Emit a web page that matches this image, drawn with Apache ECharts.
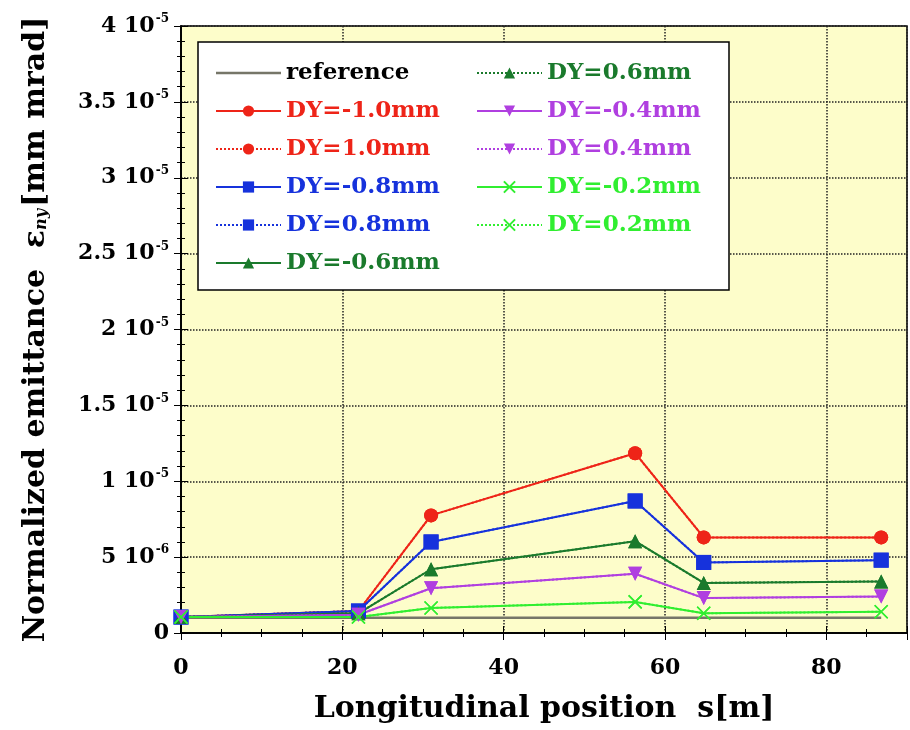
<!DOCTYPE html>
<html>
<head>
<meta charset="utf-8">
<script src="https://cdn.jsdelivr.net/npm/echarts@6/dist/echarts.min.js"></script>
<style>
  html, body { margin: 0; padding: 0; background: #fff; }
  #chart { width: 910px; height: 730px; }
</style>
</head>
<body>
<div id="chart"></div>
<script>
// positions along the beam line [m]
const positions = [0, 22, 31, 56.3, 64.8, 86.8]
// emittance values in units of 1e-6 mm mrad
const reference = [1.0, 1.0, 1.0, 1.0, 1.0, 1.0]
const dy10 = [1.05, 1.45, 7.75, 11.85, 6.3, 6.3]
const dy08 = [1.05, 1.45, 6.0, 8.7, 4.65, 4.8]
const dy06 = [1.05, 1.3, 4.2, 6.05, 3.3, 3.4]
const dy04 = [1.05, 1.2, 2.95, 3.9, 2.3, 2.4]
const dy02 = [1.05, 1.05, 1.65, 2.05, 1.3, 1.4]
const xTicks = [0, 20, 40, 60, 80]

const FONT = 'DejaVu Serif'
const RED = '#ee2418'
const BLUE = '#1632dc'
const DGREEN = '#1a7a2c'
const PURPLE = '#b03fe0'
const LGREEN = '#30ee30'
const REFCOLOR = '#767668'

const downTriangle = 'path://M0,0 L10,0 L5,9 Z'
const cross = 'path://M0,0 L10,10 M10,0 L0,10'

function pairs(vals) {
  return positions.map((x, i) => [x, vals[i]])
}

// 一条曲线的配置
function makeSeries(name, vals, color, symbol, dotted, size) {
  const isCross = symbol === cross
  return {
    name: name,
    type: 'line',
    data: pairs(vals),
    symbol: symbol,
    symbolSize: size,
    lineStyle: { color: color, width: 2, type: dotted ? 'dotted' : 'solid' },
    itemStyle: isCross
      ? { color: 'rgba(0,0,0,0)', borderColor: color, borderWidth: 1.5 }
      : { color: color },
    z: 3
  }
}

const chart = echarts.init(document.getElementById('chart'))

const yLabel = (v) => {
  if (v === 0) return '{b|0}'
  if (v < 10) return '{b|' + v + ' 10}{s|-6}'
  return '{b|' + (v / 10) + ' 10}{s|-5}'
}

const legendNames = [
  ['reference', '#000'],
  ['DY=-1.0mm', RED], ['DY=1.0mm', RED],
  ['DY=-0.8mm', BLUE], ['DY=0.8mm', BLUE],
  ['DY=-0.6mm', DGREEN], ['DY=0.6mm', DGREEN],
  ['DY=-0.4mm', PURPLE], ['DY=0.4mm', PURPLE],
  ['DY=-0.2mm', LGREEN], ['DY=0.2mm', LGREEN]
]

const option = {
  backgroundColor: '#fff',
  animation: false,
  grid: {
    left: 181, top: 26, right: 3, bottom: 97,
    show: true,
    backgroundColor: '#fdfdca',
    borderColor: '#000',
    borderWidth: 1.5
  },
  legend: {
    orient: 'vertical',
    left: 198, top: 42,
    height: 225,
    padding: [18, 4, 14, 17],
    backgroundColor: '#fff',
    borderColor: '#000',
    borderWidth: 1.5,
    itemWidth: 65,
    itemHeight: 14,
    itemGap: 12,
    textStyle: { fontFamily: FONT, fontWeight: 'bold', fontSize: 23, lineHeight: 26, width: 178 },
    data: legendNames.map(([n, c]) => {
      const item = { name: n, textStyle: { color: c } }
      if (n === 'reference') item.icon = 'path://M0,0 L65,0 L65,2.4 L0,2.4 Z'
      return item
    })
  },
  xAxis: [{
    type: 'value',
    min: 0, max: 90, interval: 20,
    name: 'Longitudinal position  s[m]',
    nameLocation: 'middle',
    nameGap: 61,
    nameTextStyle: { fontFamily: FONT, fontWeight: 'bold', fontSize: 30, color: '#000' },
    axisLine: { lineStyle: { color: '#000', width: 1.5 } },
    axisTick: { inside: true, length: 7, lineStyle: { color: '#000' } },
    minorTick: { show: true, splitNumber: 4, length: 4, lineStyle: { color: '#000' } },
    axisLabel: {
      margin: 24,
      fontFamily: FONT, fontWeight: 'bold', fontSize: 22, color: '#000',
      formatter: (v) => xTicks.includes(v) ? String(v) : ''
    },
    splitLine: { show: true, lineStyle: { color: '#222', type: 'dotted', width: 1.5 } }
  }, {
    type: 'value',
    position: 'top',
    min: 0, max: 90, interval: 20,
    axisLine: { lineStyle: { color: '#000', width: 1.5 } },
    axisTick: { inside: true, length: 7, lineStyle: { color: '#000' } },
    minorTick: { show: true, splitNumber: 4, length: 4, lineStyle: { color: '#000' } },
    axisLabel: { show: false },
    splitLine: { show: false }
  }],
  yAxis: [{
    type: 'value',
    min: 0, max: 40, interval: 5,
    name: '{n|Normalized emittance  ε}{sub|ny}{n|[mm mrad]}',
    nameLocation: 'middle',
    nameGap: 130,
    nameTextStyle: {
      color: '#000',
      rich: {
        n: { fontFamily: FONT, fontWeight: 'bold', fontSize: 30, color: '#000' },
        sub: { fontFamily: FONT, fontWeight: 'bold', fontStyle: 'italic', fontSize: 16, color: '#000', padding: [12, 2, 0, 0] }
      }
    },
    axisLine: { lineStyle: { color: '#000', width: 1.5 } },
    axisTick: { inside: true, length: 7, lineStyle: { color: '#000' } },
    minorTick: { show: true, splitNumber: 5, length: 4, lineStyle: { color: '#000' } },
    axisLabel: {
      margin: 12,
      formatter: yLabel,
      rich: {
        b: { fontFamily: FONT, fontWeight: 'bold', fontSize: 22, color: '#000' },
        s: { fontFamily: FONT, fontWeight: 'bold', fontSize: 12, color: '#000', padding: [0, 0, 14, 1] }
      }
    },
    splitLine: { show: true, lineStyle: { color: '#222', type: 'dotted', width: 1.5 } }
  }, {
    type: 'value',
    position: 'right',
    min: 0, max: 40, interval: 5,
    axisLine: { lineStyle: { color: '#000', width: 1.5 } },
    axisTick: { inside: true, length: 7, lineStyle: { color: '#000' } },
    minorTick: { show: true, splitNumber: 5, length: 4, lineStyle: { color: '#000' } },
    axisLabel: { show: false },
    splitLine: { show: false }
  }],
  series: [
    {
      name: 'reference',
      type: 'line',
      data: pairs(reference),
      symbol: 'none',
      lineStyle: { color: REFCOLOR, width: 2.5 },
      itemStyle: { color: REFCOLOR },
      z: 2
    },
    makeSeries('DY=-1.0mm', dy10, RED, 'circle', false, 14),
    makeSeries('DY=1.0mm', dy10, RED, 'circle', true, 14),
    makeSeries('DY=-0.8mm', dy08, BLUE, 'rect', false, 15),
    makeSeries('DY=0.8mm', dy08, BLUE, 'rect', true, 15),
    makeSeries('DY=-0.6mm', dy06, DGREEN, 'triangle', false, 14),
    makeSeries('DY=0.6mm', dy06, DGREEN, 'triangle', true, 14),
    makeSeries('DY=-0.4mm', dy04, PURPLE, downTriangle, false, 14),
    makeSeries('DY=0.4mm', dy04, PURPLE, downTriangle, true, 14),
    makeSeries('DY=-0.2mm', dy02, LGREEN, cross, false, 13),
    makeSeries('DY=0.2mm', dy02, LGREEN, cross, true, 13)
  ]
}

chart.setOption(option)
</script>
</body>
</html>
